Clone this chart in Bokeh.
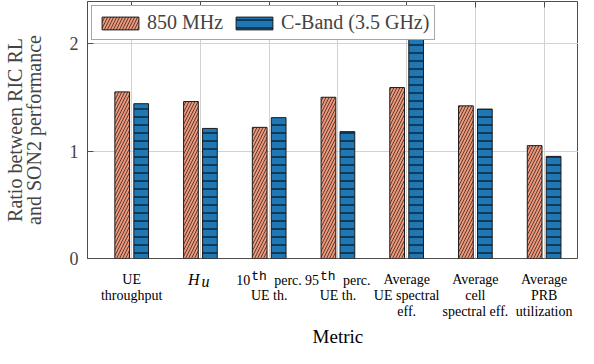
from bokeh.plotting import figure
from bokeh.layouts import column
from bokeh.models import Range1d, FixedTicker, Legend, LegendItem, LinearAxis, ColumnDataSource
from bokeh.core.properties import value
from bokeh.embed import file_html
from bokeh.resources import INLINE

# ---- data ----
metric_lines = [
    ["UE", "throughput"],
    ["H"],
    ["10", "UE th."],
    ["95", "UE th."],
    ["Average", "UE spectral", "eff."],
    ["Average", "cell", "spectral eff."],
    ["Average", "PRB", "utilization"],
]
band_850 = [1.55, 1.46, 1.22, 1.50, 1.59, 1.42, 1.05]
band_c = [1.44, 1.21, 1.31, 1.18, 2.30, 1.39, 0.95]
series_names = ["850 MHz", "C-Band (3.5 GHz)"]
y_ticks = [0, 1, 2]

SERIF = "Liberation Serif"
FRAME_H = 257
PX_PER_UNIT = 107.5
BOTTOM_PAD = 12
x = list(range(len(band_850)))
XR = Range1d(-0.643, 6.5)

# ---------------- main plot ----------------
p = figure(width=578, height=FRAME_H + 1 + BOTTOM_PAD, output_backend="svg", toolbar_location=None,
           x_range=XR, y_range=Range1d(0, FRAME_H / PX_PER_UNIT),
           min_border_left=78, min_border_right=0, min_border_top=1, min_border_bottom=BOTTOM_PAD)
p.background_fill_color = "white"
p.border_fill_color = "white"
p.outline_line_color = "#4d4d4d"
p.outline_line_width = 1

off = 0.138
w = 0.214
r1 = p.vbar(x=[i - off for i in x], top=band_850, width=w, bottom=0,
            fill_color="#EA977B", line_color="#1a1a1a", line_width=1,
            hatch_pattern="/", hatch_color="black", hatch_scale=6, hatch_weight=0.6)
r2 = p.vbar(x=[i + off for i in x], top=band_c, width=w, bottom=0,
            fill_color="#1F77B4", line_color="#1a1a1a", line_width=1,
            hatch_pattern="-", hatch_color="black", hatch_scale=8, hatch_weight=1)

p.xaxis.visible = False

p.yaxis.ticker = FixedTicker(ticks=y_ticks)
p.yaxis.major_label_text_font = SERIF
p.yaxis.major_label_text_font_size = "18px"
p.yaxis.major_label_standoff = 9
p.yaxis.major_tick_in = 6
p.yaxis.major_tick_out = 0
p.yaxis.major_tick_line_color = "#4d4d4d"
p.yaxis.minor_tick_line_color = None
p.yaxis.axis_line_color = "#4d4d4d"
p.yaxis.axis_label = "Ratio between RIC RL\nand SON2 performance"
p.yaxis.axis_label_text_font = SERIF
p.yaxis.axis_label_text_font_style = "normal"
p.yaxis.axis_label_text_font_size = "20px"
p.yaxis.axis_label_text_line_height = 0.85
p.yaxis.axis_label_standoff = 22

top_ax = LinearAxis(ticker=FixedTicker(ticks=x), major_label_overrides={i: "" for i in x},
                    major_tick_in=6, major_tick_out=0, major_label_standoff=0,
                    minor_tick_line_color=None, major_tick_line_color="#4d4d4d",
                    axis_line_color=None)
p.add_layout(top_ax, "above")

p.xgrid.ticker = FixedTicker(ticks=x)
p.xgrid.grid_line_color = "#d2d2d2"
p.ygrid.ticker = FixedTicker(ticks=y_ticks)
p.ygrid.grid_line_color = "#d2d2d2"

legend = Legend(items=[LegendItem(label=series_names[0], renderers=[r1]),
                       LegendItem(label=series_names[1], renderers=[r2])],
                location="top_left", orientation="horizontal")
legend.label_text_font = SERIF
legend.label_text_font_size = "20px"
legend.glyph_width = 46
legend.glyph_height = 16
legend.label_standoff = 4
legend.spacing = 8
legend.padding = 5
legend.margin = 4
legend.border_line_color = "#4d4d4d"
legend.border_line_width = 1
legend.background_fill_alpha = 1
p.add_layout(legend)

# ---------------- category labels (strip below) ----------------
STRIP_H = 348 - (FRAME_H + 1 + BOTTOM_PAD)
q = figure(width=578, height=STRIP_H, output_backend="svg", toolbar_location=None,
           x_range=XR, y_range=Range1d(STRIP_H, 0),
           min_border_left=78, min_border_right=0, min_border_top=0, min_border_bottom=0,
           x_axis_location=None, y_axis_location=None)
q.outline_line_color = None
q.grid.visible = False
q.background_fill_color = "white"
q.border_fill_color = "white"

line_y = [9, 25, 41]
xs, ys, ts = [], [], []
for i, lines in enumerate(metric_lines):
    for j, t in enumerate(lines):
        if i in (1, 2, 3) and j == 0:
            continue
        xs.append(i); ys.append(line_y[j]); ts.append(t)
q.text(x="x", y="y", text="t", source=ColumnDataSource(dict(x=xs, y=ys, t=ts)),
       text_font=value(SERIF), text_font_size="14px", text_align="center",
       text_baseline="middle", text_color="black")

# H_u
q.text(x=[1], y=[line_y[0]], text=[metric_lines[1][0]], text_font=value(SERIF),
       text_font_style="italic", text_font_size="16px", text_align="right",
       text_baseline="middle", x_offset=-1)
q.text(x=[1], y=[line_y[0] + 2], text=["u"], text_font=value(SERIF),
       text_font_style="italic", text_font_size="16px", text_align="left",
       text_baseline="middle", x_offset=1)

# 10th / 95th perc.
perc_x = [2, 3]
perc_num = [metric_lines[2][0], metric_lines[3][0]]
q.text(x=perc_x, y=[line_y[0]] * 2, text=perc_num, text_font=value(SERIF),
       text_font_size="14px", text_align="right", text_baseline="middle", x_offset=-19)
q.text(x=perc_x, y=[line_y[0] - 3] * 2, text=["th"] * 2, text_font=value("Liberation Mono"),
       text_font_size="13px", text_align="left", text_baseline="middle", x_offset=-18)
q.text(x=perc_x, y=[line_y[0] + 1] * 2, text=["perc."] * 2, text_font=value(SERIF),
       text_font_size="14px", text_align="left", text_baseline="middle", x_offset=5)

# x axis title
q.text(x=[3], y=[STRIP_H - 12], text=["Metric"], text_font=value(SERIF), text_font_size="19px",
       text_align="center", text_baseline="middle", text_color="black")

layout = column(p, q, spacing=0)
open("out.html", "w").write(file_html(layout, INLINE))
